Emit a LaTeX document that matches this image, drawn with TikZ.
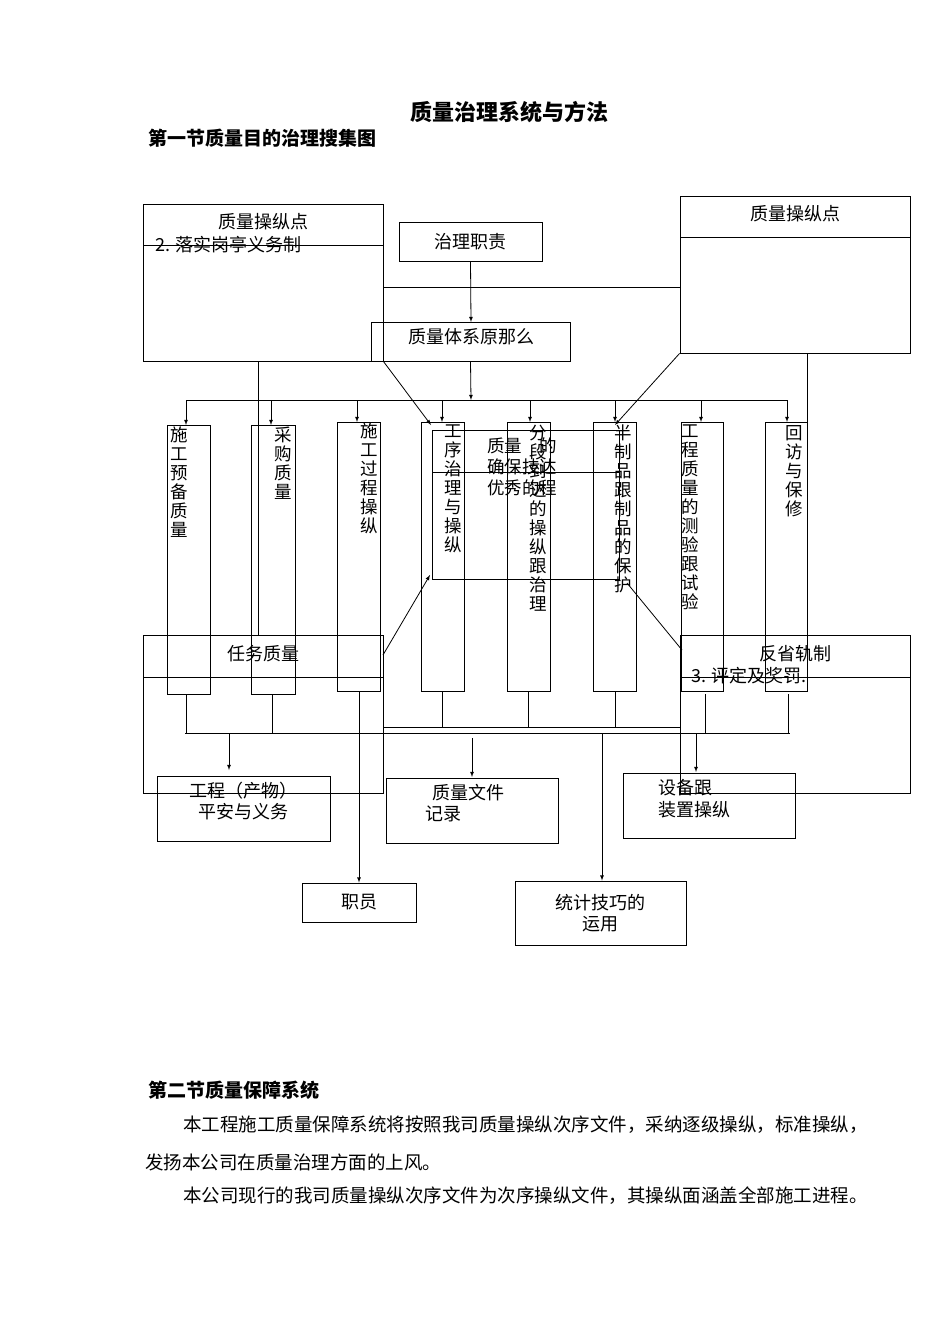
\documentclass[tikz,border=0pt]{standalone}
\usepackage{fontspec}
\setmainfont{Noto Sans CJK SC}
\XeTeXlinebreaklocale "zh"
\XeTeXlinebreakskip=0pt plus 1pt
\begin{document}
\begin{tikzpicture}[x=1pt,y=-1pt,
  bx/.style={draw,line width=0.9pt,inner sep=0pt},
  ln/.style={line width=0.8pt},
  ar/.style={line width=0.8pt,-latex},
  t/.style={font=\fontsize{18}{21}\selectfont,inner sep=0pt},
  vt/.style={font=\fontsize{17.5}{19}\selectfont,inner sep=0pt,text width=18pt,align=left,anchor=north},
  para/.style={font=\fontsize{18.5}{21}\selectfont,anchor=west,inner sep=0pt}]
\useasboundingbox (0,0) rectangle (950,1344);
\newcommand{\bxn}[5]{\node[bx,minimum width=#4-#2,minimum height=#5-#3] (#1) at ({(#2+#4)/2},{(#3+#5)/2}) {};}
% header
\node[font=\bfseries\fontsize{22}{25}\selectfont] (title) at (509,112) {质量治理系统与方法};
\node[font=\bfseries\fontsize{19}{22}\selectfont,anchor=west] (sec1) at (145,138) {第一节质量目的治理搜集图};
% top boxes
\bxn{LB}{143}{204}{383}{361}
\draw[ln] (143,245) -- (383,245);
\node[t] (lbt) at (263,222) {质量操纵点};
\node[t,anchor=west] (lbt2) at (155,245) {2. 落实岗亭义务制};
\bxn{ZZ}{399}{222}{542}{261}
\node[t] at (ZZ) {治理职责};
\bxn{RB}{680}{196}{910}{353}
\draw[ln] (680,237) -- (910,237);
\node[t] (rbt) at (795,214) {质量操纵点};
\draw[ln] (383,287) -- (680,287);
\bxn{YZ}{371}{322}{570}{361}
\node[t] at (471,337) {质量体系原那么};
\draw[ar] (ZZ.south) -- (471,322);
\draw[ar] (YZ.south) -- (471,400);
\draw[ln] (186,400) -- (787,400);
\draw[ln] (258,361) -- (258,635);
\draw[ln] (807,353) -- (807,425);
% columns
\bxn{C1}{167}{425}{210}{694}
\bxn{C2}{251}{425}{295}{694}
\bxn{C3}{337}{422}{380}{691}
\bxn{C4}{421}{422}{464}{691}
\bxn{C5}{507}{422}{550}{691}
\bxn{C6}{593}{422}{636}{691}
\bxn{C7}{681}{422}{723}{691}
\bxn{C8}{765}{422}{807}{691}
\foreach \x/\y in {186/425,271/425,357/422,442/422,530/422,615/422,701/422,787/422}
  \draw[ar] (\x,400) -- (\x,\y);
\node[vt] at (179,427) {施工预备质量};
\node[vt] at (283,427) {采购质量};
\node[vt] at (369,423) {施工过程操纵};
\node[vt] at (453,425) {工序治理与操纵};
\node[vt] at (538,425) {分段到达的操纵跟治理};
\node[vt] at (623,425) {半制品跟制品的保护};
\node[vt] at (690,425) {工程质量的测验跟试验};
\node[vt] at (794,425) {回访与保修};
% overlay box
\bxn{OV}{432}{430}{619}{579}
\draw[ln] (432,472) -- (619,472);
\node[t,align=left,anchor=north west,font=\fontsize{17.5}{21}\selectfont] (ovt) at (487,438) {质量　的\\确保技达\\优秀的程};
% diagonals
\draw[ar] (LB.south east) -- (431,425);
\draw[ar] (RB.south west) -- (615,425);
% bottom big boxes
\bxn{RW}{143}{635}{383}{793}
\draw[ln] (143,677) -- (383,677);
\node[t] at (263,654) {任务质量};
\bxn{FS}{680}{635}{910}{793}
\draw[ln] (680,677) -- (910,677);
\node[t] at (795,654) {反省轨制};
\node[t,anchor=west] at (691,676) {3. 评定及奖罚.};
\draw[ar] (383,655) -- (430,575);
\draw[ln] (627,583) -- (682,650);
% lower connectors
\foreach \x in {186,272,705,788} \draw[ln] (\x,694) -- (\x,733);
\foreach \x in {442,528,615} \draw[ln] (\x,691) -- (\x,727);
\draw[ln] (383,727) -- (680,727);
\draw[ln] (185,733) -- (790,733);
% bottom boxes
\bxn{GC}{157}{776}{330}{841}
\node[t,align=center] at (243,801) {工程（产物）\\平安与义务};
\bxn{WJ}{386}{778}{558}{843}
\node[t,anchor=west] at (432,793) {质量文件};
\node[t,anchor=west] at (425,814) {记录};
\bxn{SB}{623}{773}{795}{838}
\node[t,anchor=west] at (658,788) {设备跟};
\node[t,anchor=west] at (658,810) {装置操纵};
\bxn{ZY}{302}{883}{416}{922}
\node[t] at (ZY) {职员};
\bxn{TJ}{515}{881}{686}{945}
\node[t,align=center] at (TJ) {统计技巧的\\运用};
\draw[ar] (229,733) -- (229,770);
\draw[ar] (472,738) -- (472,777);
\draw[ar] (696,733) -- (696,772);
\draw[ar] (602,733) -- (TJ.north -| 602,0);
\draw[ar] (C3.south -| 359,0) -- (ZY.north -| 359,0);
% section 2
\node[font=\bfseries\fontsize{19}{22}\selectfont,anchor=west] (sec2) at (145,1090) {第二节质量保障系统};
\node[para] (p1) at (183,1125) {本工程施工质量保障系统将按照我司质量操纵次序文件，采纳逐级操纵，标准操纵，};
\node[para] (p2) at (145,1162) {发扬本公司在质量治理方面的上风。};
\node[para] (p3) at (183,1196) {本公司现行的我司质量操纵次序文件为次序操纵文件，其操纵面涵盖全部施工进程。};
\end{tikzpicture}
\end{document}
